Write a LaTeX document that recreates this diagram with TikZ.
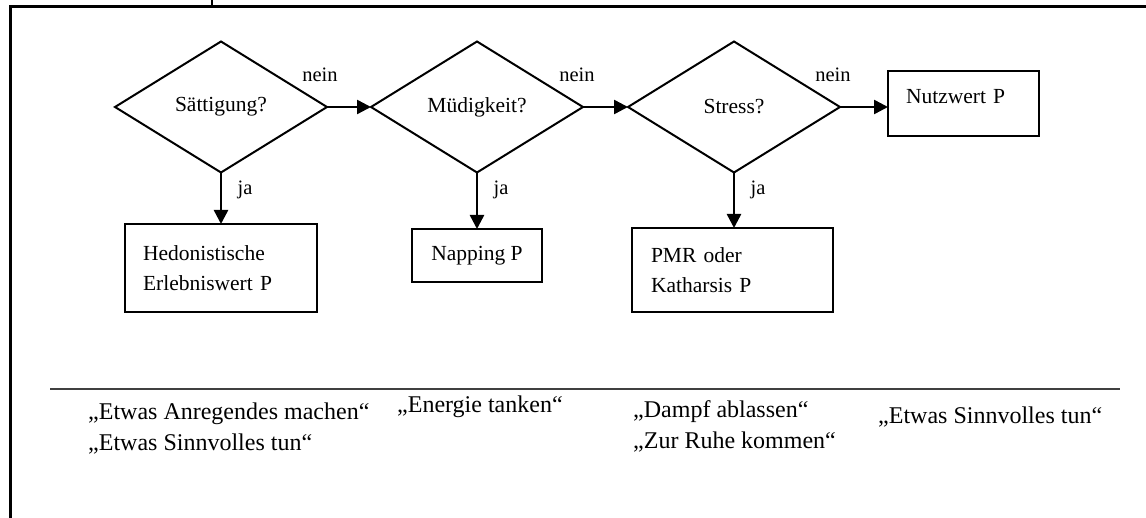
\documentclass[tikz,border=0pt]{standalone}
\usepackage{fontspec}
\setmainfont{Liberation Serif}
\usepackage{tikz}
\usetikzlibrary{arrows.meta,shapes.geometric}

\tikzset{
  frage/.style={diamond, draw, line width=2pt, minimum width=212pt, minimum height=131pt, inner sep=0pt, outer sep=0pt, font=\fontsize{21.5}{31}\selectfont},
  kasten/.style={draw, line width=2pt, outer sep=0pt, font=\fontsize{21.5}{30}\selectfont},
  pfeil/.style={-{Triangle[length=14pt,width=14pt]}, line width=2.5pt},
  antwort/.style={font=\fontsize{20.5}{24}\selectfont},
  motiv/.style={anchor=west, align=left, inner sep=0pt, font=\fontsize{24}{31}\selectfont}
}

\begin{document}
\begin{tikzpicture}[x=1pt, y=-1pt]
\useasboundingbox (0,0) rectangle (1146,518);

% Rahmen
\draw[line width=3pt] (10,518) -- (10,7) -- (1146,7);
\draw[line width=2pt] (212,0) -- (212,7);

% Fragen
\node[frage] (saett) at (221,107) {Sättigung?};
\node[frage] (muede) at (477,107) {Müdigkeit?};
\node[frage] (stress) at (734,107) {Stress?};

% Programme
\node[kasten, text width=156pt, inner xsep=18pt, inner ysep=0pt, minimum height=88pt, align=left] (hedo) at (221,268) {Hedonistische\\Erlebniswert P};
\node[kasten, minimum width=130pt, minimum height=53pt, inner sep=0pt] (napp) at (477,255.5) {Napping P};
\node[kasten, text width=163pt, inner xsep=19pt, inner ysep=0pt, minimum height=84pt, align=left] (pmr) at (732.5,270) {PMR oder\\Katharsis P};
\node[kasten, text width=115pt, text depth=15pt, inner xsep=18pt, inner ysep=0pt, minimum height=65pt, align=left] (nutz) at (963.5,103.5) {Nutzwert P};

% nein
\draw[pfeil] (saett.east) -- (muede.west) node[antwort, at start, xshift=-7pt, yshift=32pt] {nein};
\draw[pfeil] (muede.east) -- (stress.west) node[antwort, at start, xshift=-6pt, yshift=32pt] {nein};
\draw[pfeil] (stress.east) -- (stress.east -| nutz.west) node[antwort, at start, xshift=-7pt, yshift=32pt] {nein};

% ja
\draw[pfeil] (saett.south) -- (hedo.north) node[antwort, at start, xshift=24pt, yshift=-17pt] {ja};
\draw[pfeil] (muede.south) -- (napp.north) node[antwort, at start, xshift=24pt, yshift=-17pt] {ja};
\draw[pfeil] (stress.south) -- (stress.south |- pmr.north) node[antwort, at start, xshift=24pt, yshift=-17pt] {ja};

% Motive
\draw[line width=1.5pt, black!75] (50,389) -- (1120,389);
\node[motiv] (anreg) at (88,428.5) {„Etwas Anregendes machen“\\„Etwas Sinnvolles tun“};
\node[motiv] (energ) at (397,407) {„Energie tanken“};
\node[motiv] (dampf) at (633,426.5) {„Dampf ablassen“\\„Zur Ruhe kommen“};
\node[motiv] (sinn) at (878,417) {„Etwas Sinnvolles tun“};
\end{tikzpicture}
\end{document}
